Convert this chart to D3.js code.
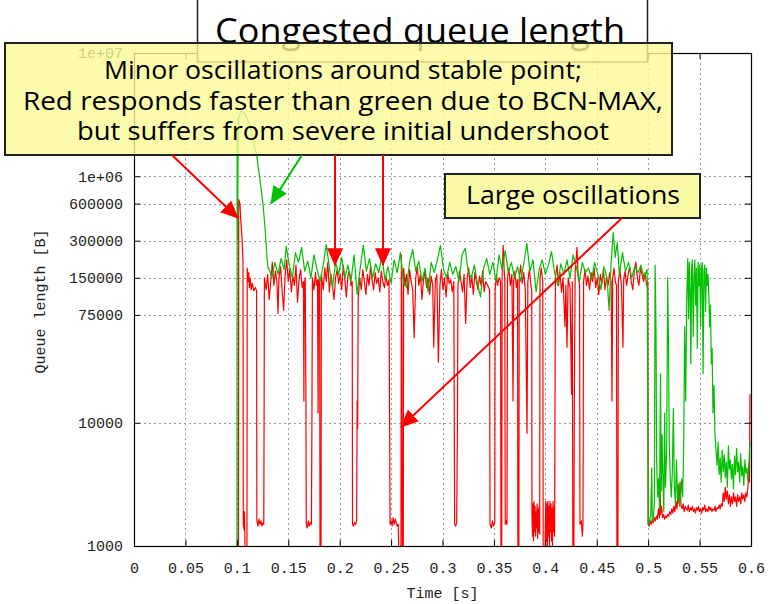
<!DOCTYPE html>
<html>
<head>
<meta charset="utf-8">
<script src="https://cdn.jsdelivr.net/npm/d3@7"></script>
<style>
  body { margin: 0; background: #fff; }
  .note { font-family: "Comic Sans MS", "Open Sans", sans-serif; fill: #000; }
</style>
</head>
<body>
<div id="chart"></div>
<script>
var svgWidth = 772;
var svgHeight = 604;

var margin = {
    top: 53,
    right: 21,
    bottom: 58,
    left: 134
};

var width = svgWidth - margin.left - margin.right;
var height = svgHeight - margin.top - margin.bottom;

// axis ticks
var xTicks = [0, 0.05, 0.1, 0.15, 0.2, 0.25, 0.3, 0.35, 0.4, 0.45, 0.5, 0.55, 0.6];
var yTicks = [1000, 10000, 75000, 150000, 300000, 600000, 1e6, 1e7];
var yTickLabels = ["1000", "10000", "75000", "150000", "300000", "600000", "1e+06", "1e+07"];

// [time (s), queue length (B)] - 0 means empty queue (below the log axis)
var greenQueue = [
    [0, 0], [0.1001, 0], [0.1003, 2500000], [0.1006, 320000], [0.1015, 2900000],
    [0.1040, 3400000], [0.1080, 3200000], [0.1128, 2600000], [0.1157, 1960000],
    [0.1196, 1430000], [0.1225, 930000], [0.1254, 600000], [0.1274, 386000],
    [0.1293, 221000], [0.1303, 180000],
    [0.131, 180000], [0.134, 150000], [0.137, 200000], [0.140, 160000], [0.143, 215000],
    [0.146, 175000], [0.148, 270000], [0.151, 190000], [0.154, 150000], [0.157, 240000],
    [0.160, 200000], [0.163, 265000], [0.166, 170000], [0.169, 205000], [0.172, 150000],
    [0.175, 230000], [0.178, 175000], [0.181, 140000], [0.184, 190000], [0.187, 280000],
    [0.190, 180000], [0.193, 125000], [0.196, 200000], [0.199, 160000], [0.202, 220000],
    [0.205, 150000], [0.208, 190000], [0.211, 140000], [0.214, 230000], [0.217, 110000],
    [0.220, 180000], [0.223, 275000], [0.226, 170000], [0.229, 215000], [0.232, 150000],
    [0.235, 195000], [0.238, 165000], [0.241, 225000], [0.244, 145000], [0.247, 185000],
    [0.250, 135000], [0.253, 210000], [0.256, 165000], [0.259, 240000], [0.262, 140000],
    [0.265, 125000], [0.268, 200000], [0.271, 255000], [0.274, 170000], [0.277, 205000],
    [0.280, 140000], [0.283, 180000], [0.286, 115000], [0.289, 200000], [0.292, 165000],
    [0.295, 210000], [0.298, 275000], [0.301, 175000], [0.304, 150000], [0.307, 200000],
    [0.310, 160000], [0.313, 185000], [0.316, 140000], [0.319, 230000], [0.322, 260000],
    [0.325, 170000], [0.328, 150000], [0.331, 190000], [0.334, 135000], [0.337, 105000],
    [0.340, 180000], [0.343, 215000], [0.346, 160000], [0.349, 200000], [0.352, 140000],
    [0.355, 230000], [0.358, 175000], [0.361, 250000], [0.364, 165000], [0.367, 200000],
    [0.370, 150000], [0.373, 185000], [0.376, 140000], [0.379, 195000], [0.382, 285000],
    [0.385, 170000], [0.388, 210000], [0.391, 115000], [0.394, 175000], [0.397, 210000],
    [0.400, 160000], [0.403, 190000], [0.406, 245000], [0.409, 165000], [0.412, 130000],
    [0.415, 195000], [0.418, 160000], [0.421, 210000], [0.424, 150000], [0.427, 230000],
    [0.430, 185000], [0.433, 140000], [0.436, 200000], [0.439, 165000], [0.442, 180000],
    [0.445, 145000], [0.448, 200000], [0.451, 160000], [0.454, 120000], [0.457, 185000],
    [0.460, 150000], [0.462, 82000], [0.464, 200000], [0.466, 350000], [0.468, 220000],
    [0.470, 290000], [0.472, 160000], [0.475, 240000], [0.478, 170000], [0.481, 200000],
    [0.484, 150000], [0.487, 185000], [0.490, 165000], [0.493, 190000], [0.496, 150000],
    [0.4990, 175000],
    [0.5000, 1500], [0.5010, 1550], [0.5025, 1800], [0.5035, 4300], [0.5040, 1600],
    [0.5050, 1700], [0.5060, 2200], [0.5068, 190000], [0.5076, 60000], [0.5082, 5000],
    [0.5092, 2500], [0.5100, 3500], [0.5110, 2000], [0.5120, 25000], [0.5127, 2800],
    [0.5135, 8000], [0.5145, 3000], [0.5152, 1900], [0.5160, 12000], [0.5168, 3000],
    [0.5180, 6000], [0.5190, 150000], [0.5198, 40000], [0.5205, 7000], [0.5215, 3500],
    [0.5225, 2500], [0.5235, 4000], [0.5245, 13000], [0.5255, 3000], [0.5265, 2200],
    [0.5275, 5000], [0.5285, 2400], [0.5295, 3200], [0.5305, 2100], [0.5315, 2600],
    [0.5325, 3500], [0.5335, 2500], [0.5345, 6000], [0.5355, 60000], [0.5365, 15000],
    [0.5375, 100000], [0.5385, 215000], [0.5393, 70000], [0.5400, 200000], [0.5408, 120000],
    [0.5415, 30000], [0.5423, 180000], [0.5430, 210000], [0.5438, 50000], [0.5446, 150000],
    [0.5454, 210000], [0.5462, 90000], [0.5470, 180000], [0.5478, 40000], [0.5486, 200000],
    [0.5494, 130000], [0.5502, 190000], [0.5510, 60000], [0.5518, 180000], [0.5526, 200000],
    [0.5534, 25000], [0.5542, 170000], [0.5550, 190000], [0.5558, 80000], [0.5566, 180000],
    [0.5574, 130000], [0.5582, 160000], [0.5590, 110000], [0.5598, 60000], [0.5606, 90000],
    [0.5614, 30000], [0.5622, 40000], [0.5630, 12000], [0.5640, 20000], [0.5650, 8000],
    [0.5660, 6000], [0.5670, 4500], [0.5680, 7000], [0.5690, 3800], [0.5700, 5200],
    [0.5710, 3300], [0.5720, 6000], [0.5730, 4000], [0.5740, 5500], [0.5750, 3600],
    [0.5760, 4800], [0.5770, 3000], [0.5780, 6500], [0.5790, 4200], [0.5800, 5000],
    [0.5810, 3500], [0.5820, 4600], [0.5830, 2900], [0.5840, 5400], [0.5850, 3800],
    [0.5860, 6200], [0.5870, 4000], [0.5880, 4800], [0.5890, 3300], [0.5900, 5600],
    [0.5910, 3700], [0.5920, 4400], [0.5930, 3100], [0.5940, 5000], [0.5950, 3900],
    [0.5960, 4300], [0.5970, 3400], [0.5980, 4800], [0.5990, 7000]
];

var redQueue = [
    [0, 0], [0.1015, 0], [0.1018, 650000], [0.1030, 600000], [0.1040, 420000],
    [0.1050, 320000], [0.1060, 200000], [0.1063, 1500], [0.1070, 1350], [0.1074, 1900],
    [0.1078, 1300], [0.1082, 0], [0.1098, 0], [0.1101, 180000], [0.1110, 140000],
    [0.1116, 165000], [0.1122, 125000], [0.1130, 150000], [0.1140, 120000], [0.1150, 135000],
    [0.1165, 118000], [0.1180, 125000], [0.1192, 118000], [0.1195, 1600], [0.1205, 1450],
    [0.1215, 1650], [0.1225, 1500], [0.1235, 1600], [0.1245, 1450], [0.1255, 1550],
    [0.1262, 1500], [0.1265, 10000], [0.1268, 150000], [0.1285, 120000], [0.1300, 160000],
    [0.1315, 100000], [0.1330, 140000], [0.1345, 200000], [0.1360, 130000], [0.1375, 170000],
    [0.1390, 140000], [0.1400, 77000], [0.1410, 150000], [0.1425, 185000], [0.1440, 120000],
    [0.1455, 82000], [0.1470, 160000], [0.1485, 210000], [0.1500, 140000], [0.1515, 175000],
    [0.1530, 115000], [0.1545, 155000], [0.1560, 130000], [0.1575, 190000], [0.1590, 95000],
    [0.1605, 145000], [0.1620, 175000], [0.1635, 125000], [0.1648, 140000], [0.1652, 15000],
    [0.1656, 130000], [0.1665, 150000], [0.1672, 15000], [0.1675, 1500], [0.1685, 1400],
    [0.1695, 1600], [0.1705, 1450], [0.1715, 1550], [0.1725, 1500], [0.1730, 9000],
    [0.1735, 150000], [0.1750, 120000], [0.1765, 165000], [0.1775, 130000], [0.1785, 145000],
    [0.1790, 12000], [0.1795, 140000], [0.1805, 150000], [0.1810, 0], [0.1818, 0],
    [0.1822, 160000], [0.1840, 120000], [0.1855, 180000], [0.1870, 140000], [0.1885, 200000],
    [0.1900, 115000], [0.1915, 160000], [0.1930, 130000], [0.1945, 100000], [0.1960, 150000],
    [0.1975, 175000], [0.1990, 135000], [0.2005, 160000], [0.2020, 120000], [0.2035, 190000],
    [0.2050, 145000], [0.2065, 105000], [0.2080, 155000], [0.2095, 170000], [0.2110, 130000],
    [0.2122, 140000], [0.2125, 1500], [0.2135, 1450], [0.2145, 1550], [0.2155, 1500],
    [0.2165, 1600], [0.2170, 15000], [0.2175, 9000], [0.2180, 100000], [0.2195, 150000],
    [0.2210, 120000], [0.2225, 175000], [0.2240, 140000], [0.2255, 110000], [0.2270, 160000],
    [0.2285, 130000], [0.2300, 185000], [0.2315, 145000], [0.2330, 120000], [0.2345, 165000],
    [0.2360, 135000], [0.2375, 150000], [0.2390, 115000], [0.2405, 170000], [0.2420, 140000],
    [0.2435, 125000], [0.2450, 155000], [0.2465, 130000], [0.2480, 145000], [0.2490, 1500],
    [0.2500, 1600], [0.2510, 1450], [0.2520, 1700], [0.2530, 1500], [0.2540, 1650],
    [0.2550, 1550], [0.2560, 1450], [0.2570, 1500], [0.2585, 0], [0.2595, 0],
    [0.2600, 230000], [0.2605, 120000], [0.2610, 0], [0.2618, 0], [0.2622, 180000],
    [0.2635, 130000], [0.2650, 160000], [0.2665, 110000], [0.2680, 175000], [0.2695, 140000],
    [0.2710, 120000], [0.2725, 49000], [0.2740, 150000], [0.2755, 185000], [0.2770, 130000],
    [0.2785, 160000], [0.2800, 100000], [0.2815, 145000], [0.2830, 170000], [0.2845, 125000],
    [0.2860, 150000], [0.2875, 110000], [0.2890, 155000], [0.2905, 130000], [0.2915, 41000],
    [0.2930, 140000], [0.2945, 160000], [0.2960, 31000], [0.2975, 130000], [0.2990, 175000],
    [0.3005, 120000], [0.3020, 150000], [0.3035, 105000], [0.3050, 165000], [0.3065, 135000],
    [0.3080, 145000], [0.3095, 115000], [0.3110, 140000], [0.3118, 1500], [0.3128, 1450],
    [0.3138, 1550], [0.3145, 9000], [0.3150, 130000], [0.3165, 170000], [0.3180, 140000],
    [0.3195, 115000], [0.3210, 160000], [0.3225, 64000], [0.3240, 150000], [0.3255, 180000],
    [0.3270, 125000], [0.3285, 155000], [0.3300, 110000], [0.3315, 165000], [0.3330, 140000],
    [0.3345, 120000], [0.3360, 155000], [0.3375, 130000], [0.3390, 170000], [0.3405, 115000],
    [0.3420, 140000], [0.3440, 130000], [0.3458, 120000], [0.3462, 1500], [0.3475, 1400],
    [0.3485, 1600], [0.3495, 1450], [0.3508, 1550], [0.3512, 120000], [0.3525, 160000],
    [0.3535, 130000], [0.3550, 150000], [0.3565, 140000], [0.3569, 0], [0.3575, 0],
    [0.3580, 160000], [0.3590, 275000], [0.3600, 170000], [0.3606, 140000], [0.3610, 1500],
    [0.3620, 1600], [0.3627, 1500], [0.3632, 150000], [0.3645, 180000], [0.3660, 130000],
    [0.3675, 160000], [0.3686, 15000], [0.3692, 140000], [0.3705, 170000], [0.3718, 125000],
    [0.3730, 145000], [0.3734, 0], [0.3742, 0], [0.3746, 150000], [0.3760, 190000],
    [0.3775, 135000], [0.3790, 165000], [0.3805, 120000], [0.3822, 8200], [0.3830, 140000],
    [0.3845, 175000], [0.3860, 130000], [0.3868, 120000], [0.3870, 1800], [0.3875, 1200],
    [0.3880, 2200], [0.3885, 1100], [0.3890, 2300], [0.3895, 1300], [0.3900, 2100],
    [0.3905, 1200], [0.3910, 1900], [0.3915, 1400], [0.3920, 2200], [0.3925, 1150],
    [0.3930, 2000], [0.3935, 1300], [0.3940, 2100], [0.3945, 1250], [0.3948, 150000],
    [0.3960, 180000], [0.3975, 140000], [0.3980, 0], [0.3990, 0], [0.4000, 1500],
    [0.4005, 2300], [0.4010, 1100], [0.4015, 2200], [0.4020, 1000], [0.4025, 2300],
    [0.4030, 1200], [0.4035, 2100], [0.4040, 1000], [0.4045, 2300], [0.4050, 1300],
    [0.4055, 2200], [0.4060, 1100], [0.4065, 2000], [0.4070, 1000], [0.4075, 2300],
    [0.4080, 1300], [0.4085, 2100], [0.4090, 1200], [0.4094, 14000], [0.4098, 150000],
    [0.4114, 190000], [0.4128, 130000], [0.4143, 165000], [0.4158, 115000], [0.4172, 150000],
    [0.4191, 60000], [0.4200, 130000], [0.4211, 41000], [0.4222, 150000], [0.4240, 125000],
    [0.4255, 17000], [0.4262, 140000], [0.4269, 0], [0.4276, 0], [0.4282, 15000],
    [0.4290, 170000], [0.4308, 265000], [0.4320, 150000], [0.4333, 130000], [0.4337, 1500],
    [0.4350, 1600], [0.4360, 1200], [0.4366, 1500], [0.4372, 140000], [0.4386, 175000],
    [0.4400, 130000], [0.4415, 155000], [0.4430, 120000], [0.4445, 165000], [0.4460, 140000],
    [0.4475, 180000], [0.4490, 125000], [0.4505, 150000], [0.4520, 110000], [0.4535, 160000],
    [0.4550, 135000], [0.4565, 175000], [0.4580, 120000], [0.4595, 150000], [0.4610, 130000],
    [0.4625, 165000], [0.4640, 140000], [0.4648, 15000], [0.4655, 150000], [0.4668, 180000],
    [0.4680, 140000], [0.4692, 130000], [0.4697, 0], [0.4705, 0], [0.4710, 140000],
    [0.4725, 175000], [0.4740, 130000], [0.4755, 41000], [0.4762, 145000], [0.4775, 170000],
    [0.4790, 130000], [0.4805, 160000], [0.4820, 185000], [0.4835, 140000], [0.4850, 120000],
    [0.4865, 170000], [0.4880, 200000], [0.4895, 150000], [0.4910, 130000], [0.4925, 180000],
    [0.4940, 160000], [0.4955, 140000], [0.4970, 165000], [0.4985, 130000], [0.4997, 140000],
    [0.5000, 1500], [0.5010, 1450], [0.5020, 1600], [0.5030, 1500], [0.5040, 1650],
    [0.5050, 1550], [0.5060, 1700], [0.5070, 1600], [0.5080, 1750], [0.5090, 1650],
    [0.5100, 2000], [0.5110, 1700], [0.5115, 3600], [0.5120, 1800], [0.5130, 2100],
    [0.5140, 1700], [0.5150, 1800], [0.5160, 1650], [0.5170, 1750], [0.5180, 1700],
    [0.5190, 1800], [0.5200, 1750], [0.5210, 1900], [0.5220, 1800], [0.5230, 2000],
    [0.5240, 1850], [0.5250, 2100], [0.5260, 1900], [0.5270, 2300], [0.5280, 2000],
    [0.5290, 2600], [0.5300, 2200], [0.5310, 3300], [0.5320, 2100], [0.5330, 2000],
    [0.5340, 2200], [0.5350, 1900], [0.5360, 2100], [0.5370, 2000], [0.5380, 1950],
    [0.5390, 2150], [0.5400, 1900], [0.5410, 2050], [0.5420, 1950], [0.5430, 2100],
    [0.5440, 1900], [0.5450, 2000], [0.5460, 1850], [0.5470, 2050], [0.5480, 1950],
    [0.5490, 2100], [0.5500, 1900], [0.5510, 2000], [0.5520, 1850], [0.5530, 2050],
    [0.5540, 1950], [0.5550, 2150], [0.5560, 1900], [0.5570, 2000], [0.5580, 1900],
    [0.5590, 2100], [0.5600, 1950], [0.5610, 2050], [0.5620, 1900], [0.5630, 2000],
    [0.5640, 1950], [0.5650, 2100], [0.5660, 1900], [0.5670, 2050], [0.5680, 2000],
    [0.5690, 2150], [0.5700, 2000], [0.5710, 2200], [0.5720, 2100], [0.5730, 2700],
    [0.5740, 2300], [0.5750, 3000], [0.5760, 2400], [0.5770, 2800], [0.5780, 2200],
    [0.5790, 2600], [0.5800, 2100], [0.5810, 2500], [0.5820, 2200], [0.5830, 2700],
    [0.5840, 2300], [0.5850, 2500], [0.5860, 2100], [0.5870, 2600], [0.5880, 2300],
    [0.5890, 2500], [0.5900, 2200], [0.5910, 2700], [0.5920, 2400], [0.5930, 2600],
    [0.5940, 2300], [0.5950, 2700], [0.5960, 2500], [0.5970, 3000], [0.5980, 3900],
    [0.5985, 3300], [0.5990, 17000]
];

var titleText = "Congested queue length";
var noteLines = ["Minor oscillations around stable point;",
                 "Red responds faster than green due to BCN-MAX,",
                 "but suffers from severe initial undershoot"];
var noteLineWidths = [478, 640, 532];
var largeNote = "Large oscillations";

var svg = d3.select("#chart")
    .append("svg")
    .attr("width", svgWidth)
    .attr("height", svgHeight);

var defs = svg.append("defs");
defs.append("clipPath").attr("id", "plotClip")
    .append("rect")
    .attr("x", margin.left).attr("y", margin.top)
    .attr("width", width).attr("height", height);

[["arrowRed", "#ff0000"], ["arrowGreen", "#00c000"]].forEach(function(m) {
    defs.append("marker")
        .attr("id", m[0])
        .attr("viewBox", "0 0 18 16")
        .attr("markerUnits", "userSpaceOnUse")
        .attr("markerWidth", 18)
        .attr("markerHeight", 16)
        .attr("refX", 17)
        .attr("refY", 8)
        .attr("orient", "auto")
        .append("path")
        .attr("d", "M0,0 L18,8 L0,16 z")
        .attr("fill", m[1]);
});

var xScale = d3.scaleLinear()
    .domain([0, 0.6])
    .range([margin.left, margin.left + width]);

var yScale = d3.scaleLog()
    .domain([1000, 1e7])
    .range([margin.top + height, margin.top]);

var qy = q => yScale(Math.max(q, 300));

// grid
var grid = svg.append("g")
    .attr("stroke", "#999")
    .attr("stroke-width", 1)
    .attr("stroke-dasharray", "2,3");

grid.selectAll(".vgrid")
    .data(xTicks.slice(1, -1))
    .enter()
    .append("line")
    .attr("x1", d => Math.round(xScale(d)) + 0.5)
    .attr("x2", d => Math.round(xScale(d)) + 0.5)
    .attr("y1", margin.top)
    .attr("y2", margin.top + height);

grid.selectAll(".hgrid")
    .data(yTicks.slice(1, -1))
    .enter()
    .append("line")
    .attr("x1", margin.left)
    .attr("x2", margin.left + width)
    .attr("y1", d => Math.round(yScale(d)) + 0.5)
    .attr("y2", d => Math.round(yScale(d)) + 0.5);

// data lines
var line = d3.line()
    .x(d => xScale(d[0]))
    .y(d => qy(d[1]));

var plot = svg.append("g").attr("clip-path", "url(#plotClip)");

plot.append("path")
    .datum(redQueue)
    .attr("fill", "none")
    .attr("stroke", "#ff0000")
    .attr("stroke-width", 1.2)
    .attr("stroke-linejoin", "round")
    .attr("d", line);

plot.append("path")
    .datum(greenQueue)
    .attr("fill", "none")
    .attr("stroke", "#00c000")
    .attr("stroke-width", 1.2)
    .attr("stroke-linejoin", "round")
    .attr("d", line);

// axes, gnuplot style: inward ticks on all sides
var tickFont = "'Liberation Mono', 'DejaVu Sans Mono', monospace";

var bottomAxis = d3.axisBottom(xScale).tickValues(xTicks).tickSize(-6).tickPadding(16)
    .tickFormat(d => String(d));
var topAxis = d3.axisTop(xScale).tickValues(xTicks).tickSize(-6).tickFormat("");
var leftAxis = d3.axisLeft(yScale).tickValues(yTicks).tickSize(-6).tickPadding(11)
    .tickFormat((d, i) => yTickLabels[i]);
var rightAxis = d3.axisRight(yScale).tickValues(yTicks).tickSize(-6).tickFormat("");

[[bottomAxis, `translate(0, ${margin.top + height})`],
 [topAxis, `translate(0, ${margin.top})`],
 [leftAxis, `translate(${margin.left}, 0)`],
 [rightAxis, `translate(${margin.left + width}, 0)`]].forEach(function(a) {
    var g = svg.append("g").attr("transform", a[1]).call(a[0]);
    g.select(".domain").remove();
    g.selectAll("line").attr("stroke", "#000");
    g.selectAll("text")
        .attr("font-family", tickFont)
        .attr("font-size", 15)
        .attr("fill", "#222");
});

svg.append("rect")
    .attr("x", margin.left + 0.5)
    .attr("y", margin.top + 0.5)
    .attr("width", width)
    .attr("height", height)
    .attr("fill", "none")
    .attr("stroke", "#000")
    .attr("stroke-width", 1.2);

svg.append("text")
    .attr("transform", `translate(${45}, ${margin.top + height / 2 + 2}) rotate(-90)`)
    .attr("text-anchor", "middle")
    .attr("font-family", tickFont)
    .attr("font-size", 15)
    .attr("fill", "#222")
    .text("Queue length [B]");

svg.append("text")
    .attr("x", margin.left + width / 2)
    .attr("y", 598)
    .attr("text-anchor", "middle")
    .attr("font-family", tickFont)
    .attr("font-size", 15)
    .attr("fill", "#222")
    .text("Time [s]");

// title box
svg.append("rect")
    .attr("x", 197.5).attr("y", -2)
    .attr("width", 450).attr("height", 64)
    .attr("fill", "#fff")
    .attr("stroke", "#222")
    .attr("stroke-width", 1.5);

svg.append("text")
    .attr("class", "note")
    .attr("x", 420).attr("y", 43)
    .attr("text-anchor", "middle")
    .attr("font-size", 35)
    .attr("textLength", 410)
    .attr("lengthAdjust", "spacingAndGlyphs")
    .text(titleText);

// callout 1 (translucent)
svg.append("rect")
    .attr("x", 5).attr("y", 43)
    .attr("width", 667).attr("height", 112)
    .attr("fill", "#fafa96")
    .attr("fill-opacity", 0.8)
    .attr("stroke", "#222")
    .attr("stroke-width", 2);

svg.selectAll(".noteLine")
    .data(noteLines)
    .enter()
    .append("text")
    .attr("class", "note")
    .attr("x", 343)
    .attr("y", (d, i) => 79 + i * 30.5)
    .attr("text-anchor", "middle")
    .attr("font-size", 25)
    .attr("textLength", (d, i) => noteLineWidths[i])
    .attr("lengthAdjust", "spacingAndGlyphs")
    .text(d => d);

// callout 2
svg.append("rect")
    .attr("x", 445).attr("y", 174)
    .attr("width", 255).attr("height", 44)
    .attr("fill", "#fafaa6")
    .attr("stroke", "#222")
    .attr("stroke-width", 2);

svg.append("text")
    .attr("class", "note")
    .attr("x", 573).attr("y", 204)
    .attr("text-anchor", "middle")
    .attr("font-size", 25)
    .attr("textLength", 214)
    .attr("lengthAdjust", "spacingAndGlyphs")
    .text(largeNote);

// arrows: tails at the callouts, tips on the data
var arrows = [
    {x1: 172, y1: 155, t: 0.1011, q: 457000, m: "arrowRed", c: "#ff0000"},
    {x1: 302, y1: 155, t: 0.1332, q: 600000, m: "arrowGreen", c: "#00c000"},
    {x1: 335, y1: 155, t: 0.1955, q: 190000, m: "arrowRed", c: "#ff0000"},
    {x1: 383, y1: 155, t: 0.2421, q: 190000, m: "arrowRed", c: "#ff0000"},
    {x1: 622, y1: 218, t: 0.2597, q: 9230, m: "arrowRed", c: "#ff0000"}
];

svg.selectAll(".arrow")
    .data(arrows)
    .enter()
    .append("line")
    .attr("x1", d => d.x1)
    .attr("y1", d => d.y1)
    .attr("x2", d => d.x1 === 335 || d.x1 === 383 ? d.x1 : xScale(d.t))
    .attr("y2", d => yScale(d.q))
    .attr("stroke", d => d.c)
    .attr("stroke-width", 2)
    .attr("marker-end", d => `url(#${d.m})`);
</script>
</body>
</html>
